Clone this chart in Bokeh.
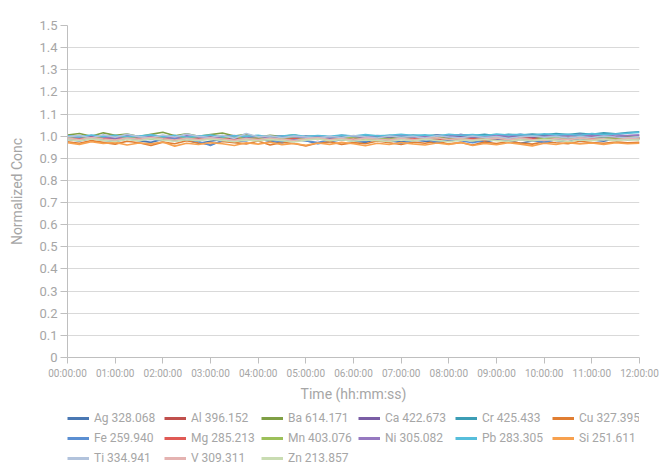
from bokeh.plotting import figure
from bokeh.layouts import column
from bokeh.models import Range1d, FixedTicker, Legend, LegendItem
from bokeh.embed import file_html
from bokeh.resources import INLINE

# time in minutes (sampled every 15 min)
times = list(range(0, 721, 15))

tick_minutes = [0, 60, 120, 180, 240, 300, 360, 420, 480, 540, 600, 660, 720]
tick_labels = ["00:00:00", "01:00:00", "02:00:00", "03:00:00", "04:00:00", "05:00:00",
               "06:00:00", "07:00:00", "08:00:00", "09:00:00", "10:00:00", "11:00:00", "12:00:00"]
y_ticks = [0, 0.1, 0.2, 0.3, 0.4, 0.5, 0.6, 0.7, 0.8, 0.9, 1.0, 1.1, 1.2, 1.3, 1.4, 1.5]

names = ["Ag 328.068", "Al 396.152", "Ba 614.171", "Ca 422.673", "Cr 425.433", "Cu 327.395",
         "Fe 259.940", "Mg 285.213", "Mn 403.076", "Ni 305.082", "Pb 283.305", "Si 251.611",
         "Ti 334.941", "V 309.311", "Zn 213.857"]
colors = ["#4a78b3", "#c0504d", "#7f9f45", "#7a5ea5", "#3c9db5", "#e07e32",
          "#5b8fd2", "#e05a55", "#9cc05a", "#9679c0", "#57bedb", "#f7a14f",
          "#b2c3dc", "#e4b3b1", "#c9dcb2"]

Ag = [0.985,0.978,0.990,0.982,0.975,0.988,0.980,
      0.972,0.986,0.979,0.983,0.968,0.977,0.985,
      0.974,0.981,0.988,0.976,0.970,0.983,0.979,
      0.966,0.975,0.984,0.978,0.972,0.987,0.980,
      0.975,0.983,0.977,0.970,0.982,0.988,0.979,
      0.973,0.985,0.980,0.968,0.978,0.986,0.981,
      0.975,0.989,0.983,0.977,0.990,0.984,0.987]
Al = [0.995,0.990,0.998,0.987,0.993,0.985,0.996,
      0.989,0.992,0.984,0.997,0.991,0.986,0.994,
      0.988,0.995,0.983,0.990,0.996,0.987,0.992,
      0.985,0.993,0.989,0.997,0.986,0.991,0.994,
      0.988,0.995,0.990,0.984,0.993,0.987,0.996,
      0.991,0.986,0.994,0.989,0.997,0.992,0.988,
      0.995,0.990,0.998,0.993,0.996,0.991,0.994]
Ba = [1.005,1.012,1.000,1.015,1.004,1.010,0.998,
      1.008,1.018,1.002,1.011,0.999,1.007,1.014,
      1.001,1.009,0.996,1.004,0.998,1.006,0.993,
      0.999,0.992,1.003,0.995,0.990,0.998,0.994,
      0.989,0.997,0.992,0.999,0.988,0.995,0.991,
      0.996,0.990,0.998,0.993,0.987,0.995,0.999,
      0.992,0.997,0.990,0.996,0.994,0.998,0.993]
Ca = [0.998,0.993,1.001,0.996,0.990,0.999,0.994,
      1.002,0.995,0.991,0.998,0.993,1.000,0.996,
      0.992,0.999,0.994,0.989,0.997,0.993,1.000,
      0.995,0.991,0.998,1.002,0.994,0.999,0.996,
      1.001,0.995,0.998,1.003,0.996,1.000,0.994,
      0.999,1.004,0.997,1.001,0.995,1.003,0.998,
      1.005,0.999,1.002,1.006,0.998,1.003,1.004]
Cr = [0.996,1.001,0.993,0.999,0.994,1.002,0.997,
      0.991,0.998,1.003,0.995,0.999,0.993,1.000,
      0.996,0.992,0.999,0.995,1.001,0.994,0.998,
      1.002,0.996,1.000,0.995,1.003,0.998,1.004,
      0.999,1.005,1.001,1.006,1.000,1.007,1.003,
      1.008,1.002,1.009,1.005,1.010,1.006,1.012,
      1.007,1.013,1.009,1.015,1.011,1.016,1.020]
Cu = [0.975,0.968,0.980,0.972,0.964,0.977,0.970,
      0.958,0.973,0.966,0.979,0.969,0.962,0.976,
      0.971,0.965,0.978,0.960,0.972,0.967,0.956,
      0.969,0.975,0.963,0.971,0.966,0.978,0.970,
      0.962,0.974,0.968,0.977,0.965,0.971,0.960,
      0.973,0.967,0.976,0.969,0.964,0.975,0.970,
      0.966,0.977,0.971,0.968,0.974,0.970,0.972]
Fe = [0.988,0.982,0.991,0.984,0.978,0.990,0.983,
      0.986,0.979,0.992,0.985,0.976,0.958,0.981,
      0.987,0.980,0.989,0.983,0.975,0.986,0.979,
      0.971,0.984,0.988,0.981,0.977,0.990,0.983,
      0.968,0.980,0.986,0.974,0.984,0.979,0.970,
      0.982,0.988,0.977,0.985,0.980,0.973,0.984,
      0.989,0.981,0.986,0.992,0.984,0.990,0.987]
Mg = [0.991,0.986,0.995,0.989,0.983,0.993,0.987,
      0.994,0.988,0.982,0.991,0.986,0.995,0.989,
      0.984,0.992,0.987,0.993,0.985,0.990,0.996,
      0.988,0.983,0.991,0.986,0.994,0.989,0.984,
      0.992,0.987,0.995,0.990,0.985,0.993,0.988,
      0.982,0.991,0.986,0.994,0.989,0.984,0.992,
      0.987,0.995,0.990,0.985,0.993,0.988,0.991]
Mn = [0.993,0.999,0.988,0.995,1.003,0.990,0.997,
      0.986,0.994,1.001,0.989,0.996,0.985,0.992,
      0.998,0.987,0.994,0.983,0.991,0.997,0.986,
      0.992,0.981,0.989,0.995,0.984,0.990,0.986,
      0.993,0.982,0.988,0.994,0.985,0.991,0.980,
      0.987,0.993,0.984,0.990,0.983,0.989,0.995,
      0.986,0.992,0.984,0.990,0.987,0.993,0.989]
Ni = [1.000,0.995,1.003,0.997,0.992,1.001,0.996,
      1.004,0.998,0.993,1.002,0.997,0.991,0.999,
      1.003,0.996,1.000,0.994,1.002,0.998,0.993,
      1.001,0.996,1.004,0.999,0.995,1.003,0.998,
      1.006,1.000,0.996,1.004,0.999,1.007,1.001,
      0.997,1.005,1.000,1.008,1.002,0.998,1.006,
      1.001,1.009,1.003,0.999,1.007,1.002,1.005]
Pb = [1.002,0.997,1.005,0.999,1.004,0.996,1.001,
      1.006,0.998,1.003,0.995,1.000,1.005,0.997,
      1.002,0.999,1.004,0.996,1.001,1.006,0.998,
      1.003,0.999,1.005,1.001,1.007,1.002,1.004,
      1.008,1.003,1.006,1.001,1.009,1.004,1.007,
      1.002,1.010,1.005,1.008,1.003,1.011,1.006,
      1.009,1.004,1.012,1.007,1.010,1.013,1.017]
Si = [0.970,0.963,0.975,0.967,0.972,0.960,0.969,
      0.965,0.974,0.955,0.968,0.962,0.971,0.966,
      0.958,0.970,0.964,0.973,0.961,0.967,0.959,
      0.969,0.963,0.972,0.966,0.957,0.968,0.962,
      0.971,0.965,0.960,0.969,0.963,0.972,0.958,
      0.967,0.961,0.970,0.964,0.956,0.968,0.962,
      0.971,0.965,0.969,0.963,0.970,0.966,0.968]
Ti = [0.997,1.003,0.992,1.006,0.995,1.009,0.998,
      0.993,1.005,0.996,1.010,0.999,0.994,1.004,
      0.990,1.012,0.997,1.002,0.993,1.000,0.996,
      0.991,0.999,0.994,1.003,0.997,0.992,1.001,
      0.995,0.999,0.991,1.002,0.996,0.993,1.000,
      0.994,0.998,0.990,0.997,1.001,0.995,0.999,
      0.992,0.998,0.994,1.000,0.996,0.993,0.997]
V = [0.990,0.985,0.993,0.987,0.982,0.991,0.986,
     0.994,0.988,0.983,0.990,0.985,0.992,0.987,
     0.981,0.989,0.984,0.991,0.986,0.980,0.988,
     0.993,0.985,0.989,0.983,0.991,0.986,0.982,
     0.990,0.984,0.988,0.993,0.985,0.989,0.983,
     0.987,0.992,0.984,0.990,0.985,0.981,0.989,
     0.984,0.991,0.986,0.988,0.983,0.990,0.987]
Zn = [0.984,0.979,0.987,0.981,0.976,0.985,0.980,
      0.988,0.982,0.977,0.984,0.979,0.986,0.981,
      0.975,0.983,0.978,0.985,0.980,0.974,0.982,
      0.987,0.979,0.984,0.977,0.983,0.980,0.976,
      0.984,0.978,0.986,0.981,0.975,0.983,0.979,
      0.985,0.980,0.977,0.984,0.978,0.986,0.981,
      0.976,0.983,0.979,0.985,0.980,0.984,0.982]

series = [Ag, Al, Ba, Ca, Cr, Cu, Fe, Mg, Mn, Ni, Pb, Si, Ti, V, Zn]

FONT = "Roboto"
TXT = "#a6a6a6"
AX = "#bfbfbf"

p = figure(frame_width=572, frame_height=332, output_backend="svg", toolbar_location=None,
           x_range=Range1d(0, 720), y_range=Range1d(0, 1.5),
           min_border_left=67, min_border_top=25, min_border_right=22, min_border_bottom=48)
p.outline_line_color = None
p.background_fill_color = "white"
p.border_fill_color = "white"

p.xgrid.visible = False
p.ygrid.grid_line_color = "#d9d9d9"
p.ygrid.grid_line_width = 1

p.xaxis.ticker = FixedTicker(ticks=tick_minutes)
p.xaxis.major_label_overrides = {t: l for t, l in zip(tick_minutes, tick_labels)}
p.yaxis.ticker = FixedTicker(ticks=y_ticks)
p.yaxis.major_label_overrides = {t: ("0" if t == 0 else f"{t:.1f}") for t in y_ticks}

for ax in (p.xaxis[0], p.yaxis[0]):
    ax.axis_line_color = AX
    ax.major_tick_line_color = AX
    ax.minor_tick_line_color = None
    ax.major_tick_in = 0
    ax.major_label_text_color = TXT
    ax.major_label_text_font = FONT
    ax.axis_label_text_color = TXT
    ax.axis_label_text_font = FONT
    ax.axis_label_text_font_style = "normal"

p.xaxis.major_tick_out = 6
p.xaxis.major_label_text_font_size = "10px"
p.xaxis.major_label_standoff = 4
p.xaxis.axis_label = "Time (hh:mm:ss)"
p.xaxis.axis_label_text_font_size = "14px"
p.xaxis.axis_label_standoff = 4

p.yaxis.major_tick_out = 7
p.yaxis.major_label_text_font_size = "13px"
p.yaxis.major_label_standoff = 3
p.yaxis.axis_label = "Normalized Conc"
p.yaxis.axis_label_text_font_size = "14px"
p.yaxis.axis_label_standoff = 11

for name, col, vals in zip(names, colors, series):
    p.line(times, vals, line_color=col, line_width=1.6)

# legend strip below the chart (same series, drawn outside its visible range)
lf = figure(width=661, height=60, output_backend="svg", toolbar_location=None,
            x_range=Range1d(-20, -10), y_range=Range1d(0, 1.5),
            x_axis_location=None, y_axis_location=None,
            min_border_left=0, min_border_right=0, min_border_top=0, min_border_bottom=0)
lf.outline_line_color = None
lf.xgrid.visible = False
lf.ygrid.visible = False

items = []
for name, col, vals in zip(names, colors, series):
    r = lf.line(times, vals, line_color=col, line_width=3)
    items.append(LegendItem(label=name, renderers=[r]))

lg = Legend(items=items, ncols=6, orientation="horizontal", location=(0, -3))
lg.label_text_font = FONT
lg.label_text_font_size = "12px"
lg.label_text_color = TXT
lg.label_width = 70
lg.label_height = 20
lg.label_standoff = 5
lg.glyph_width = 22
lg.glyph_height = 20
lg.spacing = 0
lg.padding = 0
lg.margin = 0
lg.border_line_color = None
lg.background_fill_alpha = 0
lf.add_layout(lg, "center")

layout = column(p, lf, spacing=0)
open("out.html", "w").write(file_html(layout, INLINE))
